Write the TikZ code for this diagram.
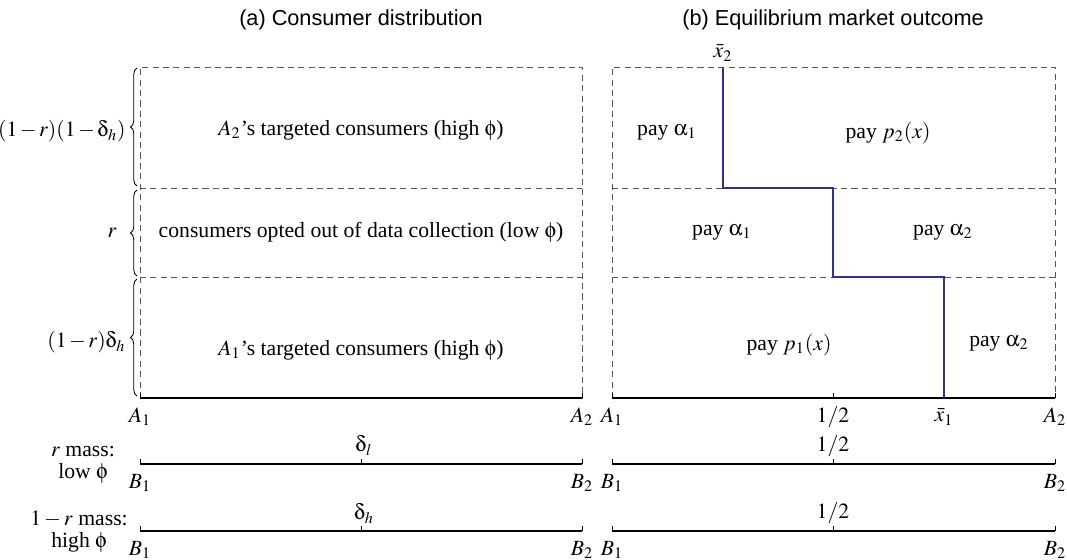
\documentclass[tikz,border=0pt]{standalone}
\usepackage{mathptmx}
\usepackage[Symbol]{upgreek}
\usepackage[no-math]{fontspec}
\setmainfont{Liberation Serif}
\setsansfont{Liberation Sans}
\usetikzlibrary{positioning, decorations.pathreplacing}
\definecolor{stepblue}{RGB}{46,49,150}
\definecolor{gridgray}{RGB}{85,85,85}

\begin{document}
\begin{tikzpicture}[
  x=0.0162cm, y=-0.0162cm,
  paneltitle/.style={font=\sffamily},
  band/.style={draw=gridgray, line width=0.45pt, dash pattern=on 2.8pt off 2pt},
  axisline/.style={line width=0.9pt},
  tickmark/.style={line width=0.4pt},
  cutoff/.style={draw=stepblue, line width=0.9pt},
  massbrace/.style={decorate, decoration={brace, amplitude=3pt}, line width=0.4pt},
  masslbl/.style={anchor=east, inner sep=0pt, font={\medmuskip=2mu\relax}},
  lbl/.style={inner sep=0.5pt}
]
\useasboundingbox (0,0) rectangle (1067,559);

% panel titles
\node[paneltitle] (ta) at (361,20) {(a) Consumer distribution};
\node[paneltitle] (tb) at (833,20) {(b) Equilibrium market outcome};

% ---- (a) consumer distribution ----
\coordinate (a1) at (140,398);
\coordinate (a2) at (582,398);
\coordinate (a1top) at (140,67);
\coordinate (a2top) at (582,67);
\draw[band] (a1) -- (a1top) -- (a2top) -- (a2);
\draw[band] (140,188) -- (582,188);
\draw[band] (140,277) -- (582,277);
\draw[axisline] (a1) -- (a2);
\draw[tickmark] (a1) -- ++(0,-5);
\draw[tickmark] (a2) -- ++(0,-5);

\node (tgt2) at (361,130) {$A_2$'s targeted consumers (high $\upphi$)};
\node (optout) at (361,232) {consumers opted out of data collection (low $\upphi$)};
\node (tgt1) at (361,350) {$A_1$'s targeted consumers (high $\upphi$)};

% masses of the three groups
\draw[massbrace] (137,186) -- (137,68);
\draw[massbrace] (137,276) -- (137,190);
\draw[massbrace] (137,396) -- (137,279);
\node[masslbl] (m1) at (126,131) {$(1-r)(1-\updelta_h)$};
\node[masslbl] (m2) at (117,233) {$r$};
\node[masslbl] (m3) at (126,342) {$(1-r)\updelta_h$};

\node[lbl] (la1) at (140,417) {$A_1$};
\node[lbl] (la2) at (582,417) {$A_2$};

% lines of the two data types
\coordinate (bl1) at (140,464);
\coordinate (bl2) at (582,464);
\coordinate (bh1) at (140,531);
\coordinate (bh2) at (582,531);
\coordinate (dl) at (361,464);
\coordinate (dh) at (361,531);
\draw[axisline] (bl1) -- (bl2);
\draw[axisline] (bh1) -- (bh2);
\foreach \p in {bl1, bl2, bh1, bh2, dl, dh}
  \draw[tickmark] (\p) -- ++(0,-5);
\node[lbl] (ldl) at (364,446) {$\updelta_l$};
\node[lbl] (ldh) at (364,514) {$\updelta_h$};
\node[lbl] (lbl1) at (140,483) {$B_1$};
\node[lbl] (lbl2) at (582,483) {$B_2$};
\node[lbl] (lbh1) at (140,550) {$B_1$};
\node[lbl] (lbh2) at (582,550) {$B_2$};

\node[align=center, inner sep=0pt] (lowrow) at (83,465) {$r$ mass:\\[-2pt] low $\upphi$};
\node[align=center, inner sep=0pt] (highrow) at (79,532) {$1-r$ mass:\\[-2pt] high $\upphi$};

% ---- (b) equilibrium outcome ----
\coordinate (b1) at (612,398);
\coordinate (b2) at (1055,398);
\coordinate (b1top) at (612,67);
\coordinate (b2top) at (1055,67);
\coordinate (half) at (833,398);
\draw[band] (b1) -- (b1top) -- (b2top) -- (b2);
\draw[band] (612,188) -- (1055,188);
\draw[band] (612,277) -- (1055,277);
\draw[axisline] (b1) -- (b2);
\foreach \p in {b1, b2, half}
  \draw[tickmark] (\p) -- ++(0,-5);

% cutoffs between the two firms
\coordinate (xbar2) at (723,67);
\coordinate (xbar1) at (944,398);
\draw[cutoff] (xbar2) -- (723,188) -- (833,188) -- (833,277) -- (944,277) -- (xbar1);
\node[lbl] (lx2) at (723,53) {$\bar{x}_2$};
\node[lbl] (lx1) at (944,417) {$\bar{x}_1$};

\node (pa1top) at (667,132) {pay $\upalpha_1$};
\node (pp2) at (888,133) {pay $p_2(x)$};
\node (pa1mid) at (722,232) {pay $\upalpha_1$};
\node (pa2mid) at (943,232) {pay $\upalpha_2$};
\node (pp1) at (789,345) {pay $p_1(x)$};
\node (pa2bot) at (999,343) {pay $\upalpha_2$};

\node[lbl] (lb1) at (612,417) {$A_1$};
\node[lbl] (lhalf) at (833,417) {$1/2$};
\node[lbl] (lb2) at (1055,417) {$A_2$};

\coordinate (cl1) at (612,464);
\coordinate (cl2) at (1055,464);
\coordinate (ch1) at (612,531);
\coordinate (ch2) at (1055,531);
\coordinate (hl) at (833,464);
\coordinate (hh) at (833,531);
\draw[axisline] (cl1) -- (cl2);
\draw[axisline] (ch1) -- (ch2);
\foreach \p in {cl1, cl2, ch1, ch2, hl, hh}
  \draw[tickmark] (\p) -- ++(0,-5);
\node[lbl] (lhl) at (833,446) {$1/2$};
\node[lbl] (lhh) at (833,513) {$1/2$};
\node[lbl] (lcl1) at (612,483) {$B_1$};
\node[lbl] (lcl2) at (1055,483) {$B_2$};
\node[lbl] (lch1) at (612,550) {$B_1$};
\node[lbl] (lch2) at (1055,550) {$B_2$};

\end{tikzpicture}
\end{document}
